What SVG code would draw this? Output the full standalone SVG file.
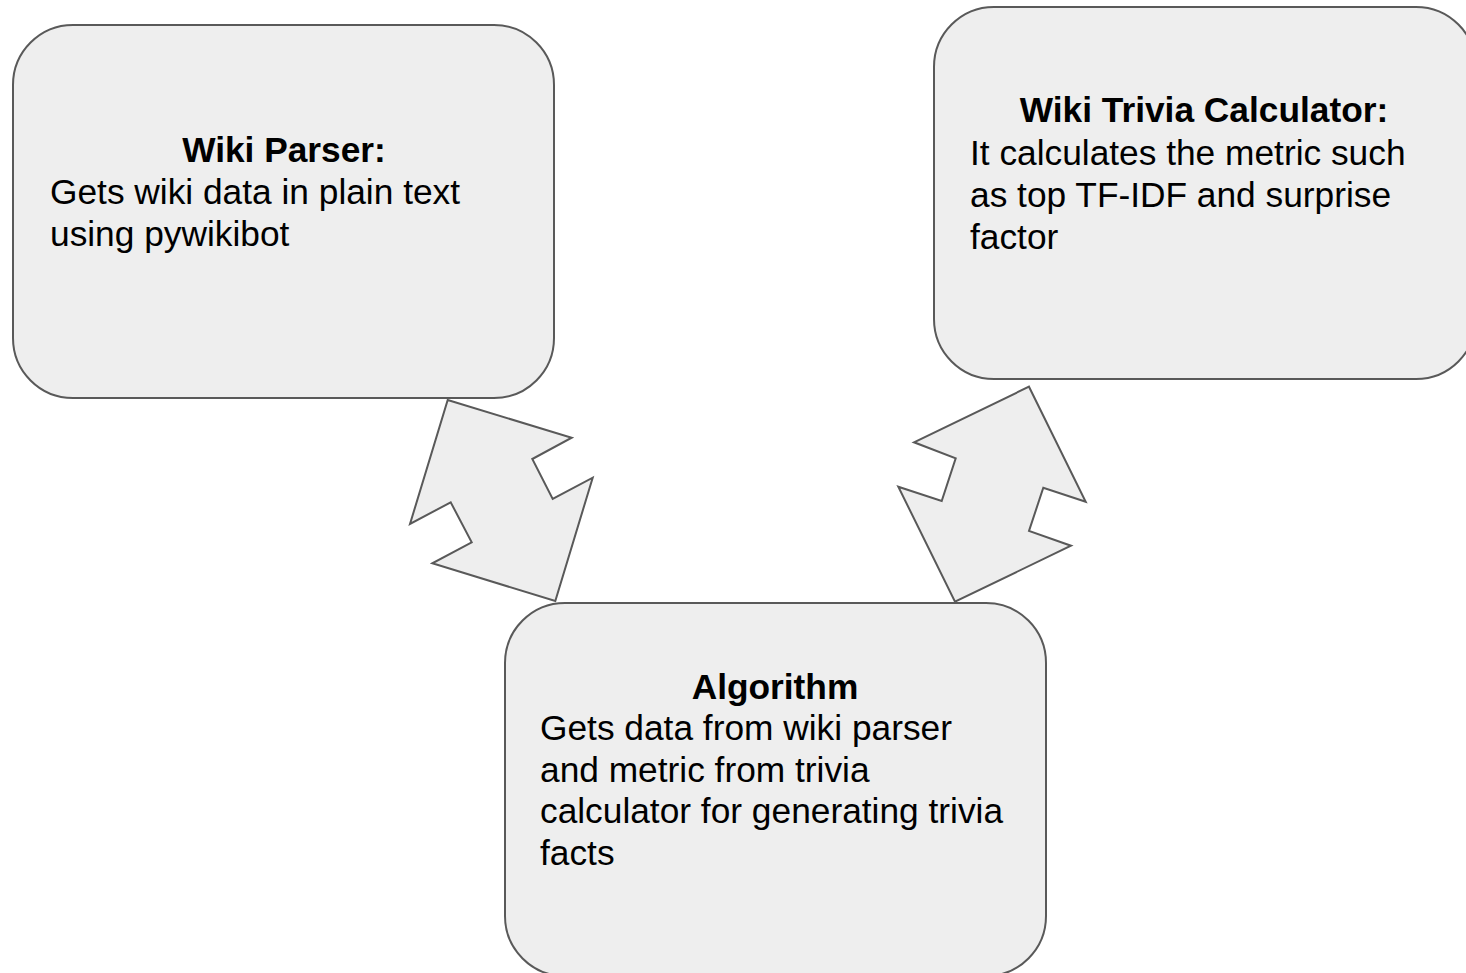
<svg xmlns="http://www.w3.org/2000/svg" width="1466" height="973" viewBox="0 0 1466 973">
  <style>
    .box { fill: #eeeeee; stroke: #595959; stroke-width: 2; }
    .arrow { fill: #eeeeee; stroke: #595959; stroke-width: 2; stroke-linejoin: miter; }
    .title { font-family: "Liberation Sans", Arial, sans-serif; font-size: 35.3px; font-weight: bold; fill: #000; text-anchor: middle; }
    .body { font-family: "Liberation Sans", Arial, sans-serif; font-size: 35.3px; fill: #000; }
  </style>
  <rect width="1466" height="973" fill="#ffffff"/>

  <g id="connectors">
    <!-- double arrow: Wiki Parser <-> Algorithm -->
    <polygon class="arrow" points="447.7,400 571.7,437.7 532.3,459 552.7,499 592.7,477.7 555.3,601 432.3,563.3 471.7,542.3 450.7,502.3 410,524"/>
    <!-- double arrow: Algorithm <-> Wiki Trivia Calculator -->
    <polygon class="arrow" points="1029,386.7 1085.7,501.7 1043.3,487.7 1029,531 1071,545.7 955,601.7 898.3,486.7 941.7,501 955.7,458.3 914,442.3"/>
  </g>

  <g id="wiki-parser">
    <rect class="box" x="13" y="25" width="541" height="373" rx="60" ry="60"/>
    <text class="title" x="284" y="162">Wiki Parser:</text>
    <text class="body" x="50" y="204">Gets wiki data in plain text</text>
    <text class="body" x="50" y="246">using pywikibot</text>
  </g>

  <g id="wiki-trivia-calculator">
    <rect class="box" x="934" y="7" width="542" height="372" rx="60" ry="60"/>
    <text class="title" x="1204" y="122">Wiki Trivia Calculator:</text>
    <text class="body" x="970" y="165">It calculates the metric such</text>
    <text class="body" x="970" y="207">as top TF-IDF and surprise</text>
    <text class="body" x="970" y="249">factor</text>
  </g>

  <g id="algorithm">
    <rect class="box" x="505" y="603" width="541" height="373" rx="60" ry="60"/>
    <text class="title" x="775" y="699">Algorithm</text>
    <text class="body" x="540" y="740">Gets data from wiki parser</text>
    <text class="body" x="540" y="782">and metric from trivia</text>
    <text class="body" x="540" y="823">calculator for generating trivia</text>
    <text class="body" x="540" y="865">facts</text>
  </g>
</svg>
